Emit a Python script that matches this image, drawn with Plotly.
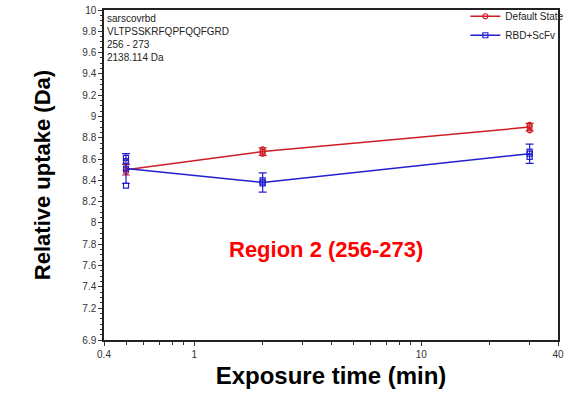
import plotly.graph_objects as go

times = [0.5, 2, 30]

red_name = "Default State"
red_mean = [8.50, 8.67, 8.90]
red_err = [0.05, 0.035, 0.035]
red_rep_x = [0.5, 0.5, 2, 2, 30, 30]
red_rep_y = [8.58, 8.48, 8.69, 8.65, 8.92, 8.87]

blue_name = "RBD+ScFv"
blue_mean = [8.51, 8.38, 8.65]
blue_err = [0.14, 0.09, 0.09]
blue_rep_x = [0.5, 0.5, 0.5, 2, 2, 30, 30]
blue_rep_y = [8.61, 8.58, 8.35, 8.40, 8.37, 8.67, 8.62]

y_ticks = [6.9, 7.2, 7.4, 7.6, 7.8, 8, 8.2, 8.4, 8.6, 8.8, 9, 9.2, 9.4, 9.6, 9.8, 10]
y_labels = ["6.9", "7.2", "7.4", "7.6", "7.8", "8", "8.2", "8.4", "8.6", "8.8", "9", "9.2", "9.4", "9.6", "9.8", "10"]
x_ticks = [0.4, 1, 10, 40]
x_labels = ["0.4", "1", "10", "40"]
x_minor = [0.5, 0.6, 0.7, 0.8, 0.9, 2, 3, 4, 5, 6, 7, 8, 9, 20, 30]

info_lines = ["sarscovrbd", "VLTPSSKRFQPFQQFGRD", "256 - 273", "2138.114 Da"]
region_text = "Region 2 (256-273)"

RED = "#d01c24"
BLUE = "#2020d0"

fig = go.Figure()

for name, color, mean, err, rx, ry, sym in [
    (red_name, RED, red_mean, red_err, red_rep_x, red_rep_y, "circle-open"),
    (blue_name, BLUE, blue_mean, blue_err, blue_rep_x, blue_rep_y, "square-open"),
]:
    fig.add_trace(go.Scatter(
        x=times, y=mean, mode="lines+markers", name=name,
        line=dict(color=color, width=1.5),
        marker=dict(symbol=sym, size=5, color=color, line=dict(width=1.2, color=color)),
        error_y=dict(type="data", array=err, visible=True, color=color, thickness=1.2, width=4),
        showlegend=True,
    ))
    fig.add_trace(go.Scatter(
        x=rx, y=ry, mode="markers", showlegend=False,
        marker=dict(symbol=sym, size=5, color=color, line=dict(width=1.2, color=color)),
    ))

fig.add_annotation(
    xref="paper", yref="paper", x=0.003, y=0.998, xanchor="left", yanchor="top",
    text="<br>".join(info_lines), showarrow=False, align="left",
    font=dict(family="Liberation Sans, Arial", size=10, color="#222"),
)
fig.add_annotation(
    xref="paper", yref="paper", x=0.49, y=0.275, xanchor="center", yanchor="middle",
    text="<b>" + region_text + "</b>", showarrow=False,
    font=dict(family="Liberation Sans, Arial", size=22, color="#ff0000"),
)

fig.update_layout(
    width=564, height=396,
    margin=dict(l=104, r=6, t=10, b=56, autoexpand=False),
    paper_bgcolor="white", plot_bgcolor="white",
    font=dict(family="Liberation Sans, Arial", size=10, color="#333"),
    legend=dict(x=1.025, y=1.025, xanchor="right", yanchor="top", bgcolor="rgba(0,0,0,0)",
                font=dict(size=10, color="#222"), itemwidth=30, tracegroupgap=0,
                borderwidth=0),
    xaxis=dict(
        type="log", range=[-0.39794, 1.60206], automargin=False,
        tickmode="array", tickvals=x_ticks, ticktext=x_labels,
        ticks="outside", ticklen=4, tickcolor="#333",
        showgrid=False, zeroline=False,
        showline=True, linecolor="#222", linewidth=1.5, mirror=True,
        minor=dict(tickmode="array", tickvals=x_minor, ticks="outside", ticklen=3, tickcolor="#333", showgrid=False),
        title=dict(text="<b>Exposure time (min)</b>", font=dict(size=24, color="black"), standoff=8),
        tickfont=dict(size=10, color="#333"),
    ),
    yaxis=dict(
        range=[6.9, 10], automargin=False,
        tickmode="array", tickvals=y_ticks, ticktext=y_labels,
        ticks="outside", ticklen=4, tickcolor="#333",
        showgrid=False, zeroline=False,
        showline=True, linecolor="#222", linewidth=1.5, mirror=True,
        minor=dict(dtick=0.05, tick0=7, ticks="outside", ticklen=2, tickcolor="#333", showgrid=False),
        title=dict(text="<b>Relative uptake (Da)</b>", font=dict(size=22, color="black"), standoff=26),
        tickfont=dict(size=10, color="#333"),
    ),
)

fig.write_html("out.html")
